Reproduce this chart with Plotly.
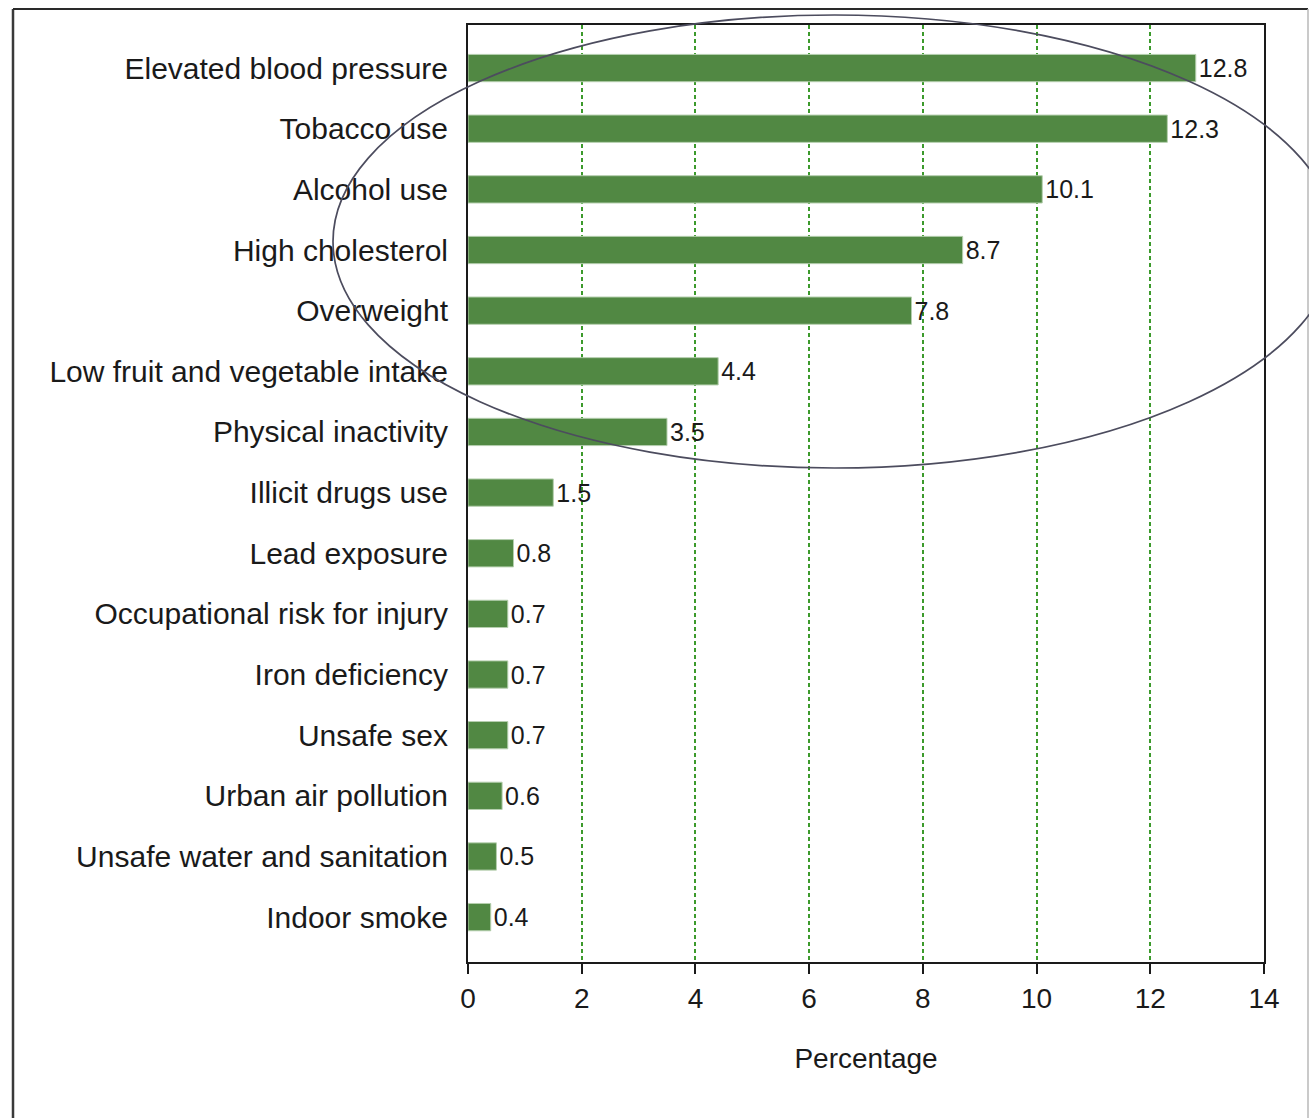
import plotly.graph_objects as go

categories = [
    "Elevated blood pressure", "Tobacco use", "Alcohol use", "High cholesterol",
    "Overweight", "Low fruit and vegetable intake", "Physical inactivity",
    "Illicit drugs use", "Lead exposure", "Occupational risk for injury",
    "Iron deficiency", "Unsafe sex", "Urban air pollution",
    "Unsafe water and sanitation", "Indoor smoke",
]
values = [12.8, 12.3, 10.1, 8.7, 7.8, 4.4, 3.5, 1.5, 0.8, 0.7, 0.7, 0.7, 0.6, 0.5, 0.4]
value_labels = ["12.8", "12.3", "10.1", "8.7", "7.8", "4.4", "3.5", "1.5", "0.8", "0.7", "0.7", "0.7", "0.6", "0.5", "0.4"]
x_ticks = [0, 2, 4, 6, 8, 10, 12, 14]

FONT = "Liberation Sans, Arial, sans-serif"
W, H = 1309, 1118
L, R, T, B = 468, 1264, 25, 962


def px(x):
    return (x - L) / (R - L)


def py(y):
    return (B - y) / (B - T)


fig = go.Figure(go.Bar(
    y=categories, x=values, orientation="h",
    text=value_labels, textposition="outside", cliponaxis=False,
    constraintext="none",
    textfont=dict(family=FONT, size=25, color="#1a1a1a"),
    marker=dict(color="#518843", line=dict(color="#b5cfae", width=1)),
    width=0.45,
))

fig.update_layout(
    width=W, height=H,
    margin=dict(l=L, r=W - R, t=T, b=H - B, autoexpand=False),
    plot_bgcolor="white", paper_bgcolor="white",
    showlegend=False,
    font=dict(family=FONT, color="#1a1a1a"),
)

fig.update_xaxes(
    range=[0, 14], tickvals=x_ticks, automargin=False,
    showgrid=True, gridcolor="#3c9a2c", gridwidth=1.5, griddash="4px,3px",
    showline=True, linecolor="#1a1a1a", linewidth=2, mirror=True,
    ticks="outside", ticklen=10, tickwidth=1.5, tickcolor="#1a1a1a",
    tickfont=dict(family=FONT, size=28, color="#1a1a1a"),
    title=dict(text="Percentage", font=dict(family=FONT, size=28, color="#1a1a1a"), standoff=36),
    zeroline=False,
)
fig.update_yaxes(
    type="category", range=[14.74, -0.71], automargin=False,
    showgrid=False, showline=True, linecolor="#1a1a1a", linewidth=2, mirror=True,
    ticks="", ticklabelstandoff=12,
    tickfont=dict(family=FONT, size=30, color="#1a1a1a"),
)

# outer frame
fig.add_shape(type="line", xref="paper", yref="paper",
              x0=px(13), x1=px(13), y0=py(9), y1=py(1130),
              line=dict(color="#3a3a3a", width=2.5))
fig.add_shape(type="line", xref="paper", yref="paper",
              x0=px(13), x1=px(1308), y0=py(9), y1=py(9),
              line=dict(color="#2a2a2a", width=2))
fig.add_shape(type="line", xref="paper", yref="paper",
              x0=px(1308), x1=px(1308), y0=py(9), y1=py(1130),
              line=dict(color="#b8b8b8", width=1.5))

# highlight ellipse
fig.add_shape(type="circle", xref="paper", yref="paper",
              x0=px(333), x1=px(1336), y0=py(468), y1=py(15),
              line=dict(color="#4c4c5e", width=1.7))

fig.write_html("out.html")
